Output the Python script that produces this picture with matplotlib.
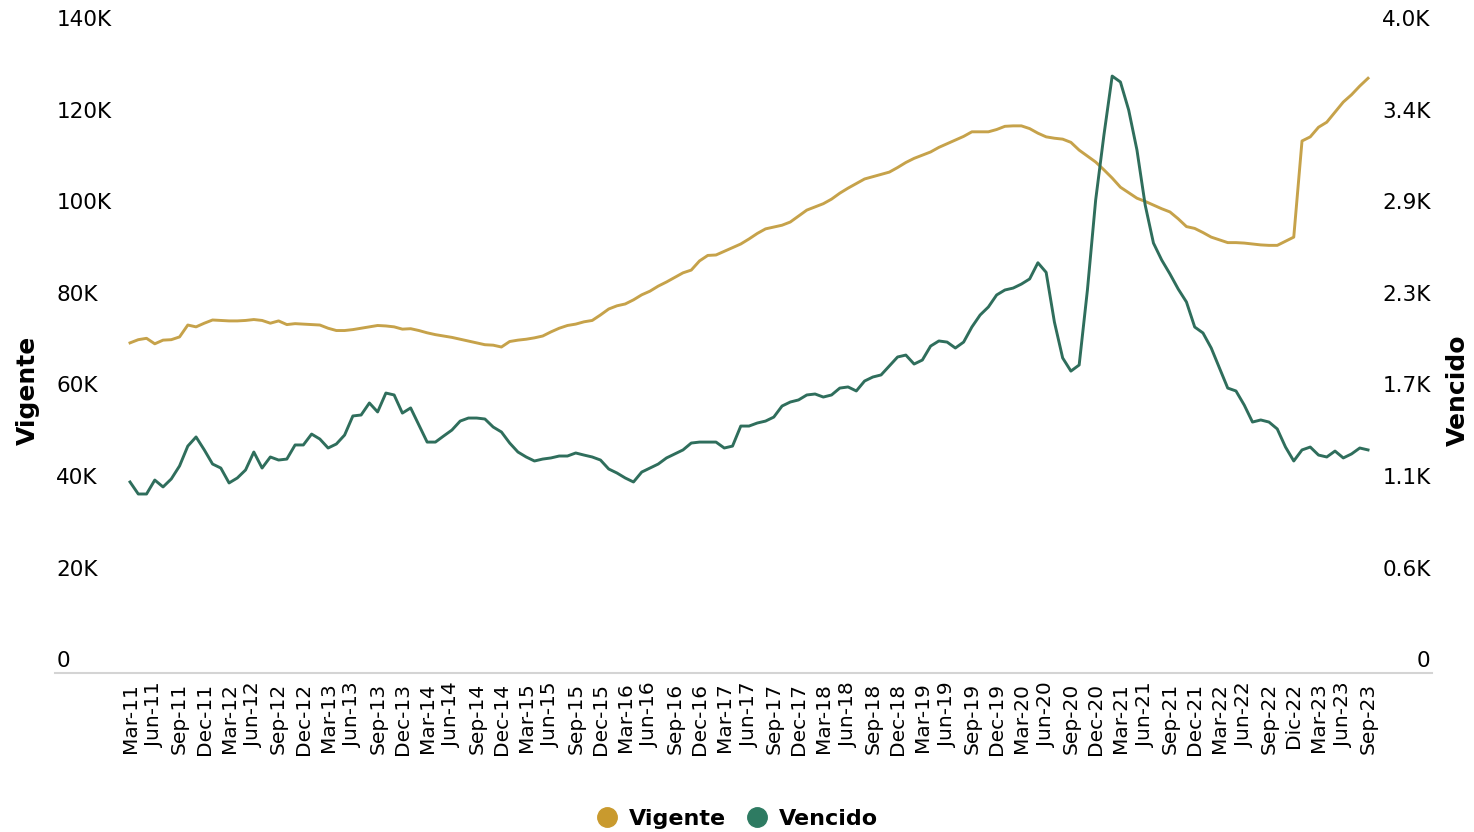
import numpy as np
import matplotlib.pyplot as plt
from matplotlib.lines import Line2D

# monthly data, Mar-11 .. Sep-23 (thousands for vigente, units for vencido)
vigente = [72.1, 72.8, 73.1, 71.9, 72.7, 72.8, 73.4, 76.0, 75.6, 76.4,
           77.1, 77.0, 76.9, 76.9, 77.0, 77.2, 77.0, 76.4, 76.9, 76.1,
           76.3, 76.2, 76.1, 76.0, 75.3, 74.8, 74.8, 75.0, 75.3, 75.6,
           75.9, 75.8, 75.6, 75.1, 75.2, 74.8, 74.3, 73.9, 73.6, 73.3,
           72.9, 72.5, 72.1, 71.7, 71.6, 71.2, 72.4, 72.7, 72.9, 73.2,
           73.6, 74.5, 75.3, 75.9, 76.2, 76.7, 77.0, 78.2, 79.5, 80.2,
           80.6, 81.5, 82.6, 83.4, 84.5, 85.4, 86.4, 87.4, 88.0, 90.0,
           91.2, 91.3, 92.1, 92.9, 93.7, 94.8, 96.0, 97.0, 97.4, 97.8,
           98.5, 99.8, 101.1, 101.8, 102.5, 103.5, 104.8, 105.9, 106.9, 107.9,
           108.4, 108.9, 109.4, 110.4, 111.5, 112.4, 113.1, 113.8, 114.8, 115.6,
           116.4, 117.2, 118.2, 118.2, 118.2, 118.7, 119.4, 119.5, 119.5, 118.9,
           117.9, 117.1, 116.8, 116.6, 115.9, 114.2, 112.9, 111.6, 109.9, 108.1,
           106.1, 104.9, 103.7, 103.0, 102.2, 101.4, 100.7, 99.2, 97.5, 97.1,
           96.2, 95.2, 94.6, 94.0, 94.0, 93.9, 93.7, 93.5, 93.4, 93.4,
           94.3, 95.2, 116.2, 117.1, 119.2, 120.3, 122.5, 124.7, 126.3, 128.2,
           129.9]

vencido = [1192, 1117, 1117, 1204, 1161, 1211, 1292, 1416, 1473, 1392,
           1304, 1279, 1186, 1217, 1267, 1379, 1279, 1348, 1329, 1335,
           1423, 1423, 1491, 1460, 1404, 1429, 1485, 1604, 1610, 1685,
           1629, 1747, 1735, 1622, 1654, 1548, 1441, 1441, 1479, 1516,
           1572, 1591, 1591, 1585, 1535, 1504, 1435, 1379, 1348, 1323,
           1335, 1342, 1354, 1354, 1373, 1360, 1348, 1329, 1273, 1248,
           1217, 1192, 1254, 1279, 1304, 1342, 1367, 1392, 1435, 1441,
           1441, 1441, 1404, 1416, 1541, 1541, 1560, 1572, 1597, 1666,
           1691, 1704, 1735, 1741, 1722, 1735, 1778, 1785, 1760, 1822,
           1847, 1860, 1916, 1972, 1984, 1928, 1953, 2040, 2072, 2065,
           2028, 2065, 2159, 2234, 2284, 2359, 2390, 2402, 2427, 2459,
           2560, 2500, 2190, 1966, 1884, 1922, 2390, 2952, 3357, 3725,
           3688, 3513, 3264, 2920, 2683, 2577, 2490, 2396, 2315, 2159,
           2122, 2028, 1903, 1778, 1760, 1672, 1566, 1579, 1566, 1523,
           1410, 1323, 1392, 1410, 1360, 1348, 1385, 1342, 1367, 1404,
           1392]

tick_labels = ["Mar-11", "Jun-11", "Sep-11", "Dec-11",
               "Mar-12", "Jun-12", "Sep-12", "Dec-12",
               "Mar-13", "Jun-13", "Sep-13", "Dec-13",
               "Mar-14", "Jun-14", "Sep-14", "Dec-14",
               "Mar-15", "Jun-15", "Sep-15", "Dec-15",
               "Mar-16", "Jun-16", "Sep-16", "Dec-16",
               "Mar-17", "Jun-17", "Sep-17", "Dec-17",
               "Mar-18", "Jun-18", "Sep-18", "Dec-18",
               "Mar-19", "Jun-19", "Sep-19", "Dec-19",
               "Mar-20", "Jun-20", "Sep-20", "Dec-20",
               "Mar-21", "Jun-21", "Sep-21", "Dec-21",
               "Mar-22", "Jun-22", "Sep-22", "Dic-22",
               "Mar-23", "Jun-23", "Sep-23"]

left_ticks = [0, 20, 40, 60, 80, 100, 120, 140]
left_labels = ["0", "20K", "40K", "60K", "80K", "100K", "120K", "140K"]
right_labels = ["0", "0.6K", "1.1K", "1.7K", "2.3K", "2.9K", "3.4K", "4.0K"]
right_ticks = [4000 * k / 7 for k in range(8)]

gold = "#c6a24a"
green = "#2f6e5c"

x = np.arange(len(vigente))
tick_pos = np.arange(0, len(vigente), 3)

fig = plt.figure(figsize=(14.74, 8.32), dpi=100)
ax = fig.add_axes([55 / 1474, 159 / 832, (1432 - 55) / 1474, (673 - 32) / 832])
ax2 = ax.twinx()

ax.plot(x, vigente, color=gold, lw=2.1, solid_joinstyle="round")
ax2.plot(x, vencido, color=green, lw=2.1, solid_joinstyle="round")

ax.set_xlim(-9.09, 157.75)
ax.set_ylim(0, 140)
ax2.set_ylim(0, 4000)

for a in (ax, ax2):
    for s in a.spines.values():
        s.set_visible(False)
    a.set_yticks([])
ax.spines["bottom"].set_visible(True)
ax.spines["bottom"].set_color("#d4d4d4")
ax.spines["bottom"].set_linewidth(1.5)

ax.set_xticks(tick_pos, tick_labels, rotation=90, fontsize=14.5)
ax.tick_params(axis="x", length=0, pad=7)

# y labels sit just above their value
for v, lab in zip(left_ticks, left_labels):
    ax.annotate(lab, xy=(0, v), xycoords=("axes fraction", "data"),
                xytext=(1, 8.5), textcoords="offset points",
                ha="left", va="center", fontsize=15.5)
for v, lab in zip(right_ticks, right_labels):
    ax2.annotate(lab, xy=(1, v), xycoords=("axes fraction", "data"),
                 xytext=(-1, 8.5), textcoords="offset points",
                 ha="right", va="center", fontsize=15.5)

fig.text(28 / 1474, 1 - 390 / 832, "Vigente", rotation=90, ha="center",
         va="center", fontsize=18, fontweight="bold")
fig.text(1458 / 1474, 1 - 390 / 832, "Vencido", rotation=90, ha="center",
         va="center", fontsize=18, fontweight="bold")

handles = [Line2D([], [], ls="", marker="o", markersize=14, color="#c99a2e"),
           Line2D([], [], ls="", marker="o", markersize=14, color="#2e7b62")]
fig.legend(handles, ["Vigente", "Vencido"], loc="center",
           bbox_to_anchor=(0.5, 13 / 832), ncol=2, frameon=False,
           prop={"size": 16, "weight": "bold"}, handletextpad=0.5,
           columnspacing=0.9, handlelength=1.0)

fig.savefig("out.png", dpi=100)
